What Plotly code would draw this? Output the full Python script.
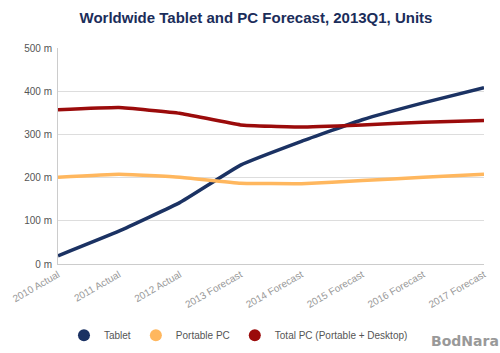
import plotly.graph_objects as go

categories = ["2010 Actual", "2011 Actual", "2012 Actual", "2013 Forecast",
              "2014 Forecast", "2015 Forecast", "2016 Forecast", "2017 Forecast"]
tablet = [19, 76, 142, 229, 284, 334, 373, 408]
portable_pc = [201, 208, 201, 187, 186, 193, 201, 208]
total_pc = [357, 362, 349, 322, 317, 322, 328, 332]
series_names = ["Tablet", "Portable PC", "Total PC (Portable + Desktop)"]
colors = ["#1b3263", "#ffb75e", "#9b0b0b"]
y_ticks = [0, 100, 200, 300, 400, 500]
y_tick_text = [f"{v} m" for v in y_ticks]

FONT = "Liberation Sans, Arial, sans-serif"
fig = go.Figure()
for name, vals, col in zip(series_names, [tablet, portable_pc, total_pc], colors):
    fig.add_trace(go.Scatter(x=categories, y=vals, mode="lines", name=name,
                             line=dict(color=col, width=3.5, shape="spline", smoothing=0.3),
                             showlegend=False, hoverinfo="x+y"))
for name, col in zip(series_names, colors):
    fig.add_trace(go.Scatter(x=[None], y=[None], mode="markers", name=name,
                             marker=dict(color=col, size=12, symbol="circle"),
                             showlegend=True))

fig.update_layout(
    width=500, height=353,
    margin=dict(l=58, r=16, t=48, b=89, autoexpand=False),
    paper_bgcolor="white", plot_bgcolor="white",
    font=dict(family=FONT, size=10, color="#555"),
    title=dict(text="<b>Worldwide Tablet and PC Forecast, 2013Q1, Units</b>",
               x=0.512, xanchor="center", y=0.95, yanchor="middle",
               font=dict(family=FONT, size=15, color="#1b2d5a")),
    showlegend=True,
    legend=dict(orientation="h", x=0.014, xanchor="left", y=-0.33, yanchor="middle",
                font=dict(family=FONT, size=10, color="#555"),
                itemsizing="trace", itemwidth=30, tracegroupgap=0,
                bgcolor="rgba(0,0,0,0)"),
    xaxis=dict(type="category", range=[0, 7], tickangle=-30, showgrid=False,
               showline=True, linecolor="#ccc", linewidth=1, ticks="", automargin=False,
               tickfont=dict(family=FONT, size=10, color="#999"), fixedrange=True),
    yaxis=dict(range=[0, 500], tickvals=y_ticks, ticktext=y_tick_text,
               showgrid=True, gridcolor="#ddd", gridwidth=1, zeroline=False,
               showline=True, linecolor="#ccc", linewidth=1, ticks="", automargin=False,
               ticklabelstandoff=3,
               tickfont=dict(family=FONT, size=10, color="#555"), fixedrange=True),
    annotations=[dict(text="<b>BodNara</b>", xref="paper", yref="paper",
                      x=1.04, y=-0.355, xanchor="right", yanchor="middle", showarrow=False,
                      font=dict(family="DejaVu Sans, sans-serif", size=14, color="#999"))],
)

fig.write_html("out.html")
